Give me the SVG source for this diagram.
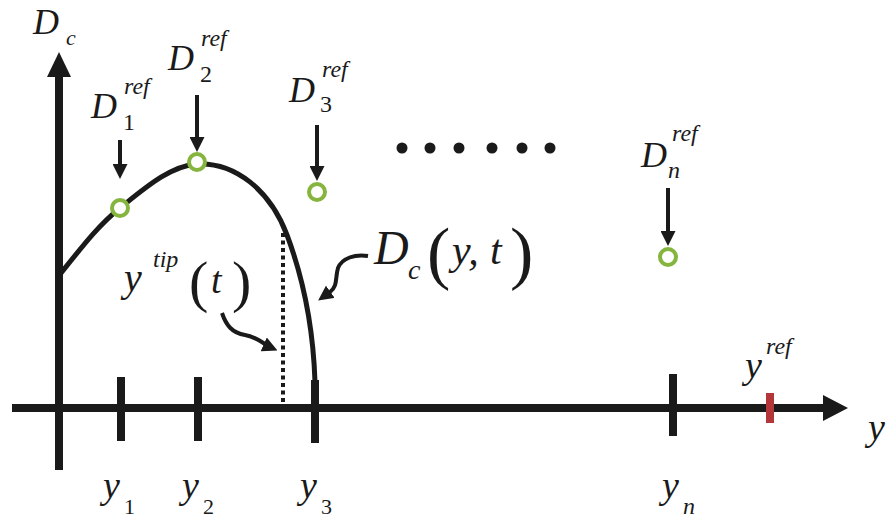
<svg xmlns="http://www.w3.org/2000/svg" width="888" height="521" viewBox="0 0 888 521">
<style>
.ax{stroke:#1a1a1a;stroke-width:8;fill:none}
.tk{stroke:#1a1a1a;stroke-width:8}
.cv{stroke:#1a1a1a;stroke-width:5;fill:none}
.ar{stroke:#1a1a1a;stroke-width:4;fill:none;marker-end:url(#ah)}
.pt{fill:#fff;stroke:#86b53f;stroke-width:4}
.m{font-style:italic;fill:#1a1a1a}
.n{fill:#1a1a1a}
</style>
<defs>
<marker id="ah" viewBox="0 0 10 10" refX="6" refY="5" markerWidth="15" markerHeight="15" markerUnits="userSpaceOnUse" orient="auto">
<path d="M0,0 L10,5 L0,10 z" fill="#1a1a1a"/>
</marker>
</defs>
<rect width="888" height="521" fill="#fff"/>
<g id="axes">
<line class="ax" x1="59" y1="470" x2="59" y2="72"/>
<polygon points="59,52 47,77 71,77" fill="#1a1a1a"/>
<line class="ax" x1="12" y1="408" x2="826" y2="408"/>
<polygon points="848,408 823,395 823,421" fill="#1a1a1a"/>
<line class="tk" x1="121" y1="377" x2="121" y2="441"/>
<line class="tk" x1="198" y1="377" x2="198" y2="441"/>
<line class="tk" x1="315" y1="380" x2="315" y2="443"/>
<line class="tk" x1="673" y1="374" x2="673" y2="436"/>
<line x1="770" y1="393" x2="770" y2="423" stroke="#b3363a" stroke-width="8"/>
</g>
<g id="curve">
<path class="cv" d="M61,273 C85,243 100,224 120,208 C145,188 170,166 197,164 C235,162 270,190 287,235 C302,275 313,320 315,382"/>
<line x1="283" y1="233" x2="283" y2="404" stroke="#1a1a1a" stroke-width="4" stroke-dasharray="4 3.5"/>
</g>
<g id="connectors">
<line class="ar" x1="120" y1="140" x2="120" y2="173"/>
<line class="ar" x1="197" y1="95" x2="197" y2="146"/>
<line class="ar" x1="317" y1="125" x2="317" y2="175"/>
<line class="ar" x1="668" y1="188" x2="668" y2="240"/>
<path class="ar" d="M222,313 C226,325 232,333 245,335 C258,337 263,344 272,348"/>
<path class="ar" d="M368,256 C355,254 342,258 338,268 C335,278 338,286 330,292 L323,297"/>
</g>
<g id="points">
<circle class="pt" cx="120" cy="208" r="8"/>
<circle class="pt" cx="197" cy="162" r="8"/>
<circle class="pt" cx="317" cy="192" r="8"/>
<circle class="pt" cx="668" cy="257" r="8"/>
</g>
<g id="ellipsis" fill="#1a1a1a">
<circle cx="402" cy="148" r="5.5"/>
<circle cx="430" cy="148" r="5.5"/>
<circle cx="459" cy="148" r="5.5"/>
<circle cx="492" cy="148" r="5.5"/>
<circle cx="522" cy="148" r="5.5"/>
<circle cx="550" cy="148" r="5.5"/>
</g>
<g id="labels" font-family="'Liberation Serif', 'DejaVu Serif', serif">
<text class="m" x="33" y="34" font-size="36">D</text>
<text class="m" x="66" y="45" font-size="22">c</text>
<text class="m" x="91" y="118" font-size="36">D</text>
<text class="m" x="124" y="94" font-size="24">ref</text>
<text class="n" x="123" y="130" font-size="24">1</text>
<text class="m" x="168" y="70" font-size="36">D</text>
<text class="m" x="201" y="46" font-size="24">ref</text>
<text class="n" x="200" y="82" font-size="24">2</text>
<text class="m" x="289" y="102" font-size="36">D</text>
<text class="m" x="322" y="77" font-size="24">ref</text>
<text class="n" x="320" y="112" font-size="24">3</text>
<text class="m" x="641" y="167" font-size="36">D</text>
<text class="m" x="672" y="141" font-size="24">ref</text>
<text class="m" x="668" y="178" font-size="24">n</text>
<text class="m" x="374" y="264" font-size="48">D</text>
<text class="m" x="408" y="279" font-size="28">c</text>
<text class="n" x="427" y="276" font-size="70">(</text>
<text class="m" x="452" y="264" font-size="42">y,</text>
<text class="m" x="490" y="264" font-size="42">t</text>
<text class="n" x="510" y="276" font-size="70">)</text>
<text class="m" x="124" y="291" font-size="40">y</text>
<text class="m" x="153" y="267" font-size="24">tip</text>
<text class="n" x="189" y="301" font-size="58">(</text>
<text class="m" x="211" y="293" font-size="38">t</text>
<text class="n" x="232" y="301" font-size="58">)</text>
<text class="m" x="103" y="498" font-size="38">y</text>
<text class="n" x="124" y="514" font-size="22">1</text>
<text class="m" x="182" y="498" font-size="38">y</text>
<text class="n" x="203" y="514" font-size="22">2</text>
<text class="m" x="300" y="498" font-size="38">y</text>
<text class="n" x="321" y="514" font-size="22">3</text>
<text class="m" x="662" y="498" font-size="38">y</text>
<text class="m" x="683" y="514" font-size="24">n</text>
<text class="m" x="745" y="378" font-size="38">y</text>
<text class="m" x="766" y="354" font-size="24">ref</text>
<text class="m" x="868" y="440" font-size="38">y</text>
</g>
</svg>
